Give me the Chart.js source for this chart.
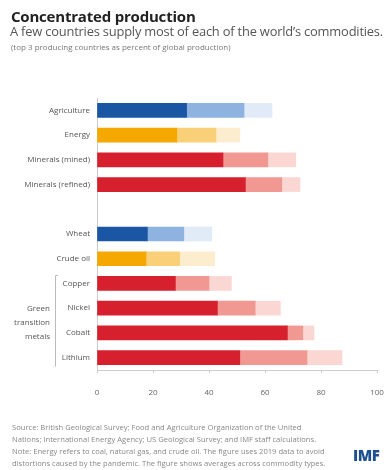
<!DOCTYPE html>
<html>
<head>
<meta charset="utf-8">
<script src="https://cdn.jsdelivr.net/npm/chart.js@4"></script>
<style>
  html, body { margin: 0; padding: 0; background: #fff; }
  body { width: 386px; height: 470px; position: relative; overflow: hidden; font-family: 'Open Sans', sans-serif; }
  #wrap { position: absolute; left: 0; top: 0; width: 386px; height: 470px; }
  .t { position: absolute; white-space: nowrap; }
  #title { left: 11px; top: 6px; font-size: 15px; font-weight: 700; color: #222; letter-spacing: -0.2px; }
  #sub { left: 10px; top: 22px; font-size: 12.9px; color: #555; letter-spacing: -0.2px; }
  #note { left: 11px; top: 41px; font-size: 8px; color: #777; }
  #foot { left: 12px; top: 421px; font-size: 7.6px; line-height: 12px; color: #888; }
  #logo { left: 353px; top: 445px; font-size: 15px; font-weight: 800; color: #1d4f91; letter-spacing: -0.5px; }
</style>
</head>
<body>
<div id="wrap"><canvas id="c" width="386" height="470"></canvas></div>
<div class="t" id="title">Concentrated production</div>
<div class="t" id="sub">A few countries supply most of each of the world’s commodities.</div>
<div class="t" id="note">(top 3 producing countries as percent of global production)</div>
<div class="t" id="foot">Source: British Geological Survey; Food and Agriculture Organization of the United<br>Nations; International Energy Agency; US Geological Survey; and IMF staff calculations.<br>Note: Energy refers to coal, natural gas, and crude oil. The figure uses 2019 data to avoid<br>distortions caused by the pandemic. The figure shows averages across commodity types.</div>
<div class="t" id="logo">IMF</div>
<script>
  // categories (empty one = gap between the two groups)
  const categories = ['Agriculture', 'Energy', 'Minerals (mined)', 'Minerals (refined)', '', 'Wheat', 'Crude oil', 'Copper', 'Nickel', 'Cobalt', 'Lithium'];
  const groups = ['agri', 'energy', 'minerals', 'minerals', null, 'agri', 'energy', 'minerals', 'minerals', 'minerals', 'minerals'];
  // share of global production, percent
  const firstCountry = [32, 28.5, 45, 53, null, 18, 17.5, 28, 43, 68, 51];
  const secondCountry = [20.5, 14, 16, 13, null, 13, 12, 12, 13.5, 5.5, 24];
  const thirdCountry = [10, 8.5, 10, 6.5, null, 10, 12.5, 8, 9, 4, 12.5];
  const xTicks = [0, 20, 40, 60, 80, 100];
  const bracketLabel = ['Green', 'transition', 'metals'];

  const palette = {
    agri: ['#1b56a4', '#8fb3e0', '#e1ebf7'],
    energy: ['#f4a800', '#f9cf78', '#fdedcf'],
    minerals: ['#d7202e', '#f29893', '#fbd7d3'],
  };
  const colorsFor = (rank) => groups.map(g => g ? palette[g][rank] : 'transparent');

  // bracket + "Green transition metals" label beside the metal rows
  const bracket = {
    id: 'bracket',
    afterDraw(chart) {
      const ctx = chart.ctx;
      const y = chart.scales.y;
      const top = y.getPixelForValue(7) - 8;
      const bottom = y.getPixelForValue(10) + 9;
      ctx.save();
      ctx.strokeStyle = '#bbb';
      ctx.lineWidth = 1;
      ctx.beginPath();
      ctx.moveTo(58, top);
      ctx.lineTo(55.5, top);
      ctx.lineTo(55.5, bottom);
      ctx.stroke();
      ctx.fillStyle = '#555';
      ctx.font = '8px "Open Sans"';
      ctx.textAlign = 'right';
      ctx.textBaseline = 'middle';
      const mid = (top + bottom) / 2 + 2;
      bracketLabel.forEach((s, i) => ctx.fillText(s, 50, mid + (i - 1) * 14));
      ctx.restore();
    }
  };

  const ds = (data, rank) => ({
    data,
    backgroundColor: colorsFor(rank),
    borderWidth: 0,
    barThickness: 14,
  });

  new Chart(document.getElementById('c'), {
    type: 'bar',
    data: {
      labels: categories,
      datasets: [ds(firstCountry, 0), ds(secondCountry, 1), ds(thirdCountry, 2)],
    },
    plugins: [bracket],
    options: {
      indexAxis: 'y',
      responsive: false,
      animation: false,
      layout: { padding: { top: 98, bottom: 70, left: 0, right: 9 } },
      plugins: { legend: { display: false }, tooltip: { enabled: false } },
      scales: {
        y: {
          stacked: true,
          afterFit: (s) => { s.width = 97; },
          grid: { display: false, drawTicks: false },
          border: { color: '#ccc' },
          ticks: { color: '#555', font: { size: 8, family: 'Open Sans' }, padding: 7 },
        },
        x: {
          stacked: true,
          min: 0,
          max: 100,
          afterBuildTicks: (s) => { s.ticks = xTicks.map(v => ({ value: v })); },
          afterFit: (s) => { s.height = 30; s.paddingLeft = 0; s.paddingRight = 0; },
          grid: { drawOnChartArea: false, tickLength: 3, color: '#ccc' },
          border: { color: '#ccc' },
          ticks: { color: '#666', font: { size: 8, family: 'Open Sans' }, padding: 15, maxRotation: 0 },
        },
      },
    },
  });
</script>
</body>
</html>
